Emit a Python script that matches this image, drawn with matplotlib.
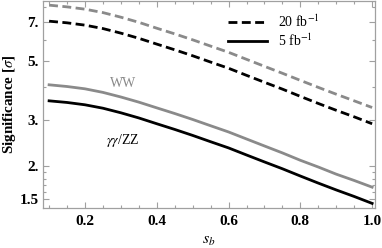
import matplotlib
matplotlib.use("Agg")
import matplotlib.pyplot as plt
from matplotlib.lines import Line2D

plt.rcParams['font.family'] = ['Liberation Serif', 'DejaVu Serif']
plt.rcParams['mathtext.fontset'] = 'stix'

# data
s_b = [0.1, 0.15, 0.2, 0.25, 0.3, 0.35, 0.4, 0.45, 0.5, 0.55,
       0.6, 0.65, 0.7, 0.75, 0.8, 0.85, 0.9, 0.95, 1.0]
ww_20 = [8.14, 8.02, 7.86, 7.63, 7.33, 7.01, 6.66, 6.34, 6.02, 5.70,
         5.40, 5.08, 4.78, 4.50, 4.23, 3.98, 3.75, 3.54, 3.34]
gz_20 = [7.08, 6.98, 6.84, 6.64, 6.38, 6.10, 5.80, 5.52, 5.24, 4.96,
         4.70, 4.42, 4.16, 3.92, 3.68, 3.46, 3.26, 3.08, 2.90]
ww_5 = [4.07, 4.01, 3.93, 3.81, 3.66, 3.50, 3.33, 3.17, 3.01, 2.85,
        2.70, 2.54, 2.39, 2.25, 2.11, 1.99, 1.87, 1.77, 1.67]
gz_5 = [3.54, 3.49, 3.42, 3.32, 3.19, 3.05, 2.90, 2.76, 2.62, 2.48,
        2.35, 2.21, 2.08, 1.96, 1.84, 1.73, 1.63, 1.54, 1.45]

yticks = [1.5, 2, 3, 5, 7]
ytick_labels = ["1.5", "2.", "3.", "5.", "7."]
yminor = [1.6, 1.7, 1.8, 1.9, 4, 6, 8]
xticks = [0.2, 0.4, 0.6, 0.8, 1.0]
xtick_labels = ["0.2", "0.4", "0.6", "0.8", "1.0"]
xminor = [0.1, 0.15, 0.25, 0.3, 0.35, 0.45, 0.5, 0.55, 0.65, 0.7, 0.75, 0.85, 0.9, 0.95]

gray = '#8a8a8a'
frame = '#a0a0a0'

fig = plt.figure(figsize=(3.82, 2.48), dpi=100)
ax = fig.add_axes([43/382, 1-208/248, (375-43)/382, 207/248])

dash = (0, (3.2, 1.6))
ax.plot(s_b, ww_20, color=gray, lw=2.0, linestyle=dash)
ax.plot(s_b, gz_20, color='black', lw=2.0, linestyle=dash)
ax.plot(s_b, ww_5, color=gray, lw=2.0)
ax.plot(s_b, gz_5, color='black', lw=2.0)

ax.set_yscale('log')
ax.set_xlim(0.083, 1.008)
ax.set_ylim(1.393, 8.44)

ax.set_yticks(yticks)
ax.set_yticklabels(ytick_labels)
ax.set_yticks(yminor, minor=True)
ax.set_yticklabels([], minor=True)
ax.set_xticks(xticks)
ax.set_xticklabels(xtick_labels)
ax.set_xticks(xminor, minor=True)

for lab in ax.get_xticklabels() + ax.get_yticklabels():
    lab.set_fontweight('bold')
    lab.set_fontsize(11)

ax.tick_params(which='both', direction='in', top=True, right=True, color=frame, width=0.8)
ax.tick_params(which='major', length=4)
ax.tick_params(which='minor', length=2)
ax.tick_params(axis='x', pad=5)
ax.tick_params(axis='y', pad=3)
for sp in ax.spines.values():
    sp.set_color(frame)
    sp.set_linewidth(0.9)

ax.set_ylabel(r"Significance [$\sigma$]", fontsize=10.8, fontweight='bold', labelpad=1)
ax.set_xlabel(r"$s_b$", fontsize=11.5, labelpad=3)

ax.text(0.305, 4.1, "WW", color=gray, fontsize=10, ha='center', va='center')
ax.text(0.305, 2.5, r"$\gamma\gamma$/ZZ", color='black', fontsize=10, ha='center', va='center')

handles = [Line2D([], [], color='black', lw=2.0, linestyle=dash),
           Line2D([], [], color='black', lw=2.0)]
leg = ax.legend(handles, [r"20 fb$^{-1}$", r"5 fb$^{-1}$"], loc='upper left',
                bbox_to_anchor=(0.52, 1.0), frameon=False, fontsize=10,
                handlelength=2.8, handletextpad=0.8, labelspacing=0.15)
for t in leg.get_texts():
    t.set_ha('right')

fig.savefig("out.png", dpi=100)
